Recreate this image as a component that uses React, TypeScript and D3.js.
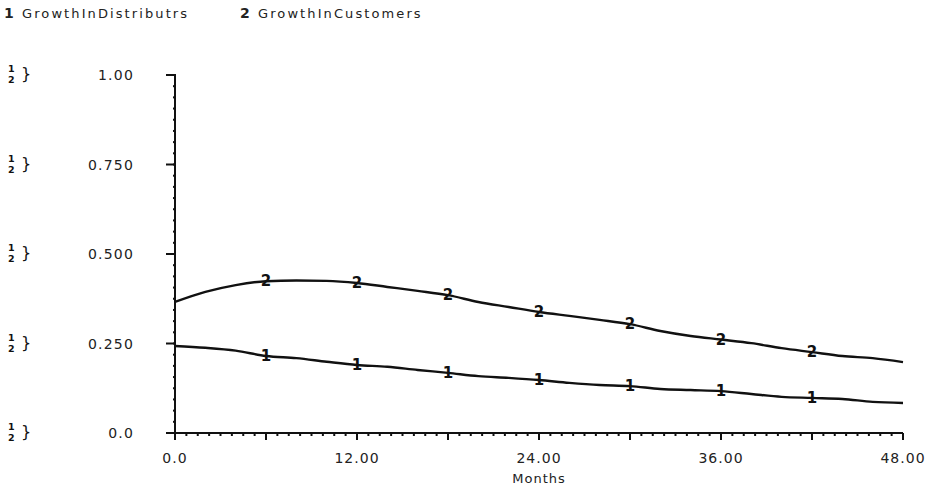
import React from 'react';
import * as d3 from 'd3';

// months sampled every 2
const months = [0, 2, 4, 6, 8, 10, 12, 14, 16, 18, 20, 22, 24, 26, 28, 30, 32, 34, 36, 38, 40, 42, 44, 46, 48];

const growthInDistributrs = [
  0.243, 0.238, 0.23, 0.215, 0.209, 0.199, 0.19, 0.185, 0.176, 0.168, 0.159, 0.154, 0.148,
  0.14, 0.134, 0.131, 0.123, 0.12, 0.117, 0.109, 0.101, 0.098, 0.095, 0.087, 0.084,
];

const growthInCustomers = [
  0.366, 0.394, 0.413, 0.424, 0.426, 0.425, 0.419, 0.408, 0.397, 0.385, 0.366, 0.352, 0.338,
  0.327, 0.316, 0.304, 0.285, 0.271, 0.261, 0.251, 0.237, 0.226, 0.215, 0.209, 0.198,
];

const seriesNames = ['GrowthInDistributrs', 'GrowthInCustomers'];
const markerMonths = [6, 12, 18, 24, 30, 36, 42];

const yTicks = [0, 0.25, 0.5, 0.75, 1.0];
const yTickLabels = ['0.0', '0.250', '0.500', '0.750', '1.00'];
const xTicks = [0, 12, 24, 36, 48];
const xTickLabels = ['0.0', '12.00', '24.00', '36.00', '48.00'];

const font = 'DejaVu Sans, sans-serif';

const App = () => {
  const width = 931;
  const height = 493;
  const margin = { top: 75, right: 28, bottom: 60, left: 175 };

  const x = d3.scaleLinear().domain([0, 48]).range([margin.left, width - margin.right]);
  const y = d3.scaleLinear().domain([0, 1]).range([height - margin.bottom, margin.top]);

  const allSeries = [growthInDistributrs, growthInCustomers];

  const line = d3
    .line<number>()
    .x((_, i) => x(months[i]))
    .y((d) => y(d))
    .curve(d3.curveMonotoneX);

  const valueAt = (vals: number[], m: number) => vals[months.indexOf(m)];

  const xMinor = d3.range(0, 48.01, 0.75);
  const yMinor = d3.range(0, 1.001, 1 / 32);

  return (
    <svg
      width={width}
      height={height}
      style={{ position: 'absolute', left: 0, top: 0, background: '#fff' }}
    >
      {/* legend */}
      <g fontFamily={font} fontSize={13} fill="#222">
        <text x={4} y={18} fontWeight="bold" fontSize={14}>1</text>
        <text x={22} y={18} letterSpacing={2.1}>{seriesNames[0]}</text>
        <text x={240} y={18} fontWeight="bold" fontSize={14}>2</text>
        <text x={258} y={18} letterSpacing={2.1}>{seriesNames[1]}</text>
      </g>

      {/* left scale markers */}
      {yTicks.map((t) => (
        <g key={'m' + t} fontFamily={font} fontWeight="bold" fill="#111" fontSize={9.5}>
          <text x={8} y={y(t) - 3}>1</text>
          <text x={8} y={y(t) + 8}>2</text>
          <text x={21} y={y(t) + 4} fontSize={16} fontWeight="normal">{'}'}</text>
        </g>
      ))}

      {/* y axis */}
      <g stroke="#111" strokeWidth={2}>
        <line x1={x(0)} x2={x(0)} y1={y(1)} y2={y(0)} />
        {yMinor.map((t) => (
          <line key={'ym' + t} x1={x(0) - 2} x2={x(0) + 1} y1={y(t)} y2={y(t)} />
        ))}
        {yTicks.map((t) => (
          <line key={'yt' + t} x1={x(0) - 9} x2={x(0)} y1={y(t)} y2={y(t)} />
        ))}
      </g>
      <g fontFamily={font} fontSize={14} fill="#222" textAnchor="end">
        {yTicks.map((t, i) => (
          <text key={'yl' + t} x={134} y={y(t) + 5} letterSpacing={1.2}>
            {yTickLabels[i]}
          </text>
        ))}
      </g>

      {/* x axis */}
      <g stroke="#111" strokeWidth={2}>
        <line x1={x(0)} x2={x(48)} y1={y(0)} y2={y(0)} />
        {xMinor.map((t) => (
          <line key={'xm' + t} x1={x(t)} x2={x(t)} y1={y(0)} y2={y(0) + 3} />
        ))}
        {d3.range(0, 48.01, 6).map((t) => (
          <line key={'xt' + t} x1={x(t)} x2={x(t)} y1={y(0)} y2={y(0) + 7} />
        ))}
      </g>
      <g fontFamily={font} fontSize={14} fill="#222" textAnchor="middle">
        {xTicks.map((t, i) => (
          <text key={'xl' + t} x={x(t)} y={y(0) + 30} letterSpacing={1}>
            {xTickLabels[i]}
          </text>
        ))}
        <text x={x(24)} y={y(0) + 50} fontSize={13} letterSpacing={1}>Months</text>
      </g>

      {/* series */}
      {allSeries.map((vals, si) => (
        <g key={'s' + si}>
          <path d={line(vals) || ''} fill="none" stroke="#111" strokeWidth={2.4} />
          {markerMonths.map((m) => (
            <text
              key={'mk' + si + m}
              x={x(m)}
              y={y(valueAt(vals, m)) + 5}
              textAnchor="middle"
              fontFamily={font}
              fontWeight="bold"
              fontSize={15}
              fill="#111"
            >
              {si + 1}
            </text>
          ))}
        </g>
      ))}
    </svg>
  );
};

export default App;
